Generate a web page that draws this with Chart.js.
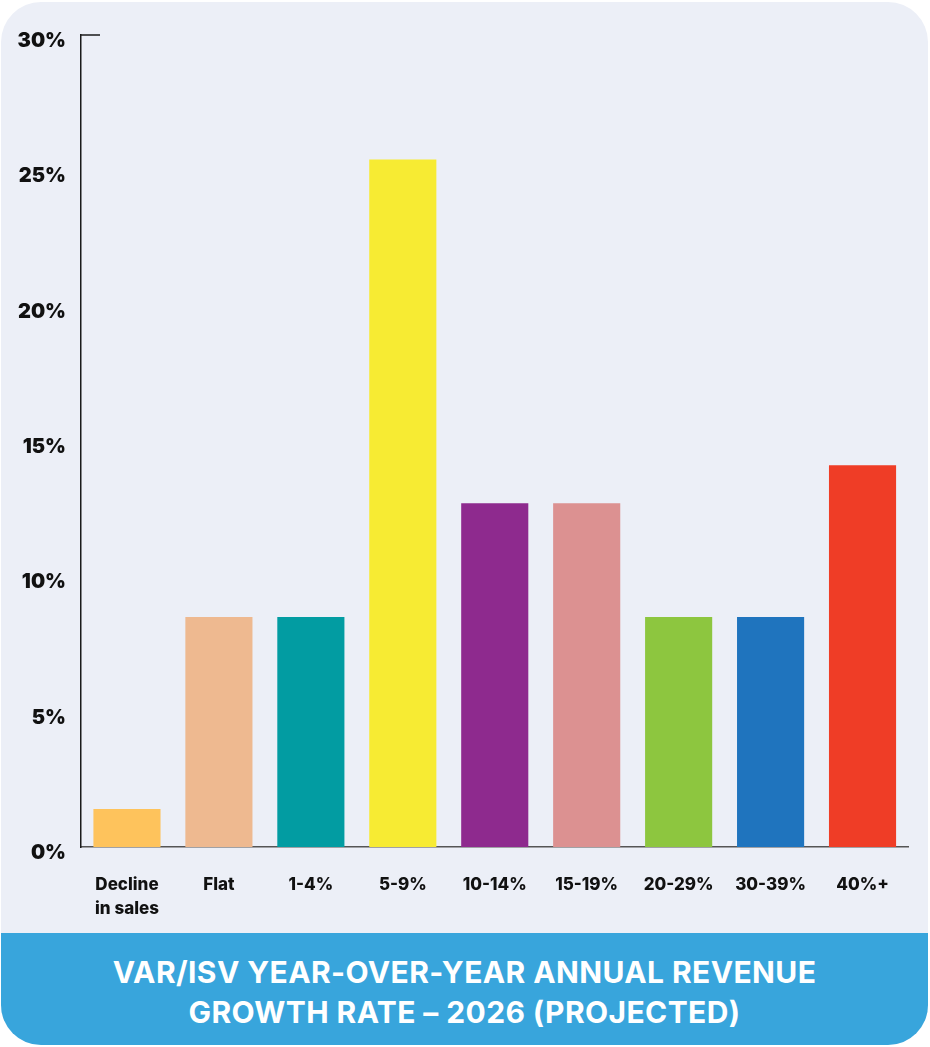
<!DOCTYPE html>
<html>
<head>
<meta charset="utf-8">
<script src="https://cdn.jsdelivr.net/npm/chart.js@4.4.1/dist/chart.umd.min.js"></script>
<style>
  html, body { margin: 0; padding: 0; background: #ffffff; }
  #panel {
    position: absolute; left: 1px; top: 2px; width: 927px; height: 1043px;
    border-radius: 40px; overflow: hidden; background: #ECEFF7;
  }
  #chartBox { position: absolute; left: 0; top: 0; width: 927px; height: 931px; }
  #footer {
    position: absolute; left: 0; top: 931px; width: 927px; height: 112px;
    background: #38A5DC; color: #ffffff; text-align: center;
    font-family: Inter, "Noto Sans", sans-serif; font-weight: 700; font-size: 30px;
    line-height: 40px; display: flex; flex-direction: column; justify-content: center;
    letter-spacing: 0.4px; box-sizing: border-box; padding-top: 6px;
  }
</style>
</head>
<body>
<div id="panel">
  <div id="chartBox"><canvas id="c" width="927" height="931"></canvas></div>
  <div id="footer"><div>VAR/ISV YEAR-OVER-YEAR ANNUAL REVENUE</div><div>GROWTH RATE – 2026 (PROJECTED)</div></div>
</div>
<script>
const categories = [['Decline', 'in sales'], 'Flat', '1-4%', '5-9%', '10-14%', '15-19%', '20-29%', '30-39%', '40%+'];
const values = [1.4, 8.5, 8.5, 25.4, 12.7, 12.7, 8.5, 8.5, 14.1];
const barColors = ['#FEC35C', '#EEB990', '#029CA2', '#F7EB33', '#8E2A8E', '#DC9191', '#8DC63F', '#1F74BE', '#EF3D26'];
const yTicks = [0, 5, 10, 15, 20, 25, 30];

const topTick = {
  id: 'topTick',
  afterDraw(chart) {
    const y = chart.scales.y;
    const ctx = chart.ctx;
    const py = y.getPixelForValue(30);
    ctx.save();
    ctx.strokeStyle = '#1a1a1a';
    ctx.lineWidth = 1.5;
    ctx.beginPath();
    ctx.moveTo(chart.chartArea.left, py);
    ctx.lineTo(chart.chartArea.left + 19, py);
    ctx.stroke();
    ctx.restore();
  }
};

new Chart(document.getElementById('c'), {
  type: 'bar',
  data: {
    labels: categories,
    datasets: [{
      data: values,
      backgroundColor: barColors,
      borderWidth: 0,
      barPercentage: 0.73,
      categoryPercentage: 1.0
    }]
  },
  options: {
    responsive: false,
    animation: false,
    layout: { padding: { top: 33, right: 19.5, bottom: 0, left: 0 } },
    plugins: { legend: { display: false }, tooltip: { enabled: false } },
    scales: {
      x: {
        grid: { display: false, drawTicks: false },
        border: { display: true, color: '#555555', width: 1.5 },
        ticks: {
          color: '#111111',
          font: { family: 'Inter', weight: '800', size: 17, lineHeight: '24px' },
          padding: 26,
          maxRotation: 0,
          autoSkip: false
        },
        afterFit(s) { s.height = 86; }
      },
      y: {
        min: 0, max: 30,
        afterBuildTicks(s) { s.ticks = yTicks.map(v => ({ value: v })); },
        grid: { display: false, drawTicks: false },
        border: { display: true, color: '#1a1a1a', width: 1.5 },
        ticks: {
          color: '#111111',
          font: { family: 'Inter', weight: '900', size: 20 },
          padding: 15,
          labelOffset: 6,
          callback: v => v + '%'
        },
        afterFit(s) { s.width = 80; }
      }
    }
  },
  plugins: [topTick]
});
</script>
</body>
</html>
